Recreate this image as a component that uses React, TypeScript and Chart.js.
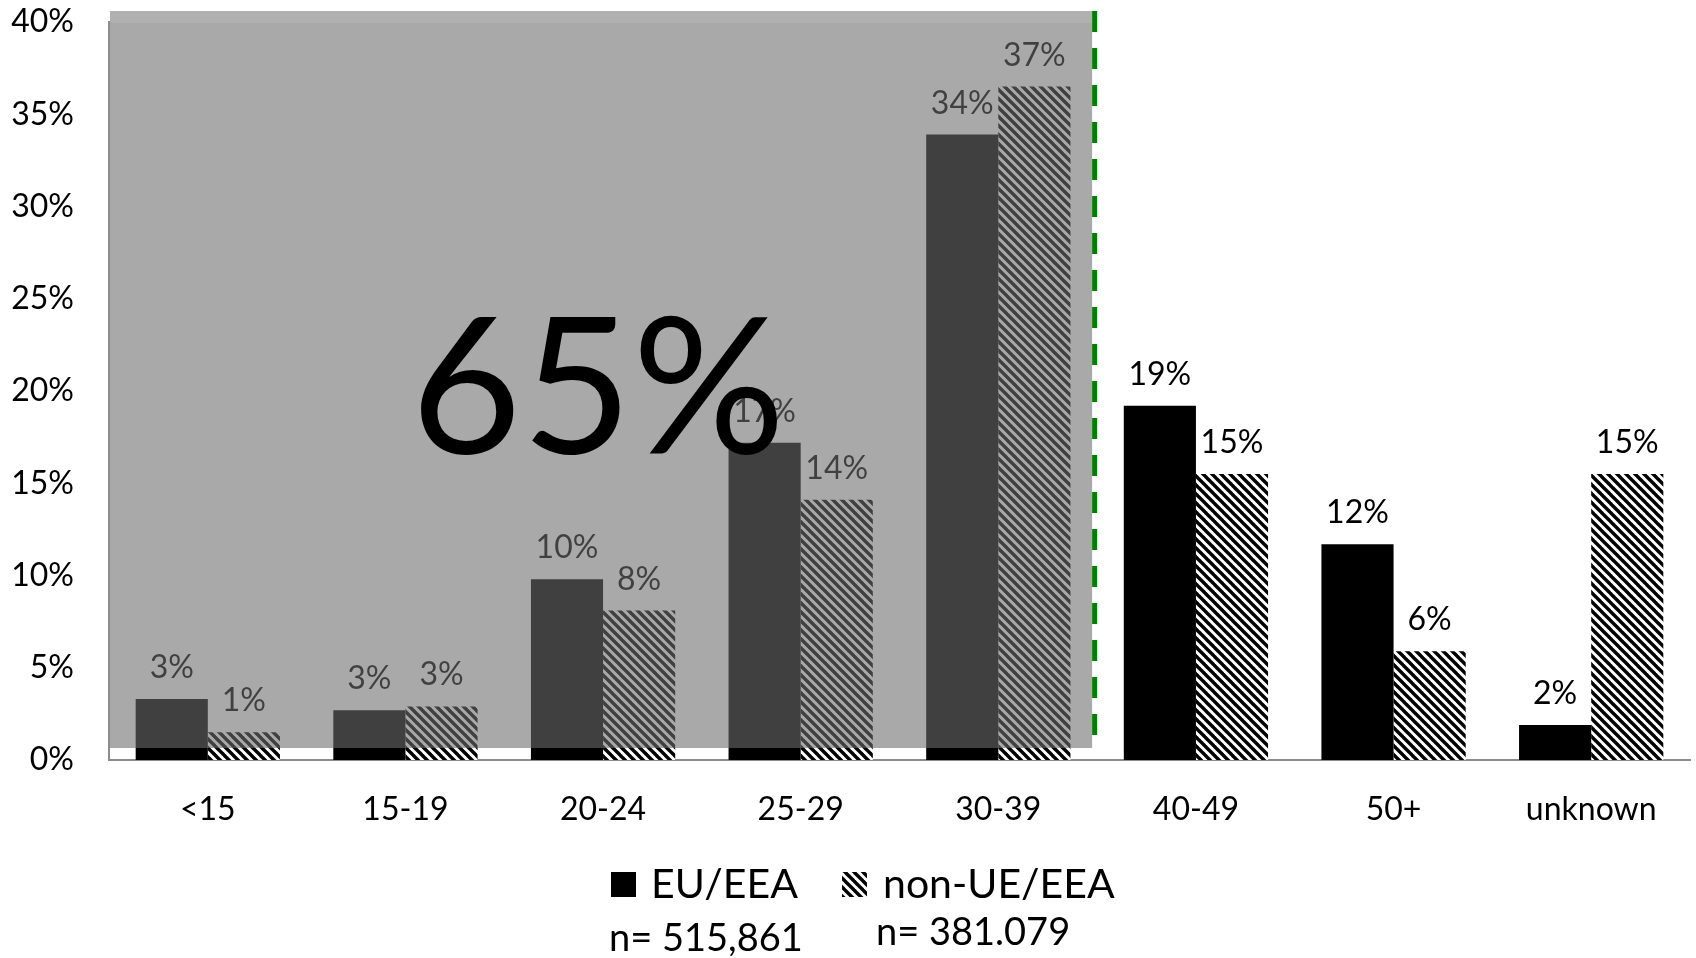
import React, { useEffect, useRef } from "react";
import { Chart, registerables } from "chart.js";

Chart.register(...registerables);

const categories = ["<15", "15-19", "20-24", "25-29", "30-39", "40-49", "50+", "unknown"];
const euValues = [3.3, 2.7, 9.8, 17.2, 33.9, 19.2, 11.7, 1.9];
const nonEuValues = [1.5, 2.9, 8.1, 14.1, 36.5, 15.5, 5.9, 15.5];
const euLabels = ["3%", "3%", "10%", "17%", "34%", "19%", "12%", "2%"];
const nonEuLabels = ["1%", "3%", "8%", "14%", "37%", "15%", "6%", "15%"];
const yTicks = [0, 5, 10, 15, 20, 25, 30, 35, 40];
const legendNames = ["EU/EEA", "non-UE/EEA"];
const legendCounts = ["n= 515,861", "n= 381.079"];
const bigLabel = "65%";
const FONT = "Lato, 'Open Sans', sans-serif";

function makeHatch(): CanvasPattern | string {
  const s = 9;
  const c = document.createElement("canvas");
  c.width = s;
  c.height = s;
  const g = c.getContext("2d");
  if (!g) return "#000";
  g.fillStyle = "#fff";
  g.fillRect(0, 0, s, s);
  g.strokeStyle = "#000";
  g.lineWidth = 3.4;
  for (const off of [-s, 0, s]) {
    g.beginPath();
    g.moveTo(off - 1, -1);
    g.lineTo(off + s + 1, s + 1);
    g.stroke();
  }
  const p = g.createPattern(c, "repeat");
  return p || "#000";
}

function zeroPad(scale: any) {
  scale.paddingTop = 0;
  scale.paddingBottom = 0;
  scale.paddingLeft = 0;
  scale.paddingRight = 0;
}

export default function App() {
  const ref = useRef<HTMLCanvasElement | null>(null);

  useEffect(() => {
    const canvas = ref.current;
    if (!canvas) return;
    const hatch = makeHatch();

    const overlayPlugin = {
      id: "overlayPlugin",
      afterDatasetsDraw(chart: any) {
        const ctx = chart.ctx;
        const area = chart.chartArea;
        const xScale = chart.scales.x;
        // value labels
        ctx.save();
        ctx.font = `32px ${FONT}`;
        ctx.fillStyle = "#000";
        ctx.textAlign = "center";
        ctx.textBaseline = "alphabetic";
        const labelSets = [euLabels, nonEuLabels];
        chart.data.datasets.forEach((_ds: any, di: number) => {
          const meta = chart.getDatasetMeta(di);
          meta.data.forEach((el: any, i: number) => {
            ctx.fillText(labelSets[di][i], el.x, el.y - 21);
          });
        });
        ctx.restore();

        // grey overlay over the first five groups
        const boundary = (xScale.getPixelForValue(4) + xScale.getPixelForValue(5)) / 2 - 5;
        const top = area.top - 11;
        const bottom = area.bottom - 12;
        ctx.save();
        ctx.fillStyle = "rgba(108,108,108,0.59)";
        ctx.fillRect(area.left + 1, top, boundary - area.left - 1, bottom - top);
        ctx.fillStyle = "rgba(255,255,255,0.08)";
        ctx.fillRect(area.left + 1, top, boundary - area.left - 1, 12);
        ctx.restore();

        // green dashed separator
        ctx.save();
        ctx.strokeStyle = "#008000";
        ctx.lineWidth = 5;
        ctx.setLineDash([21, 16]);
        ctx.beginPath();
        ctx.moveTo(boundary + 2.5, top);
        ctx.lineTo(boundary + 2.5, bottom);
        ctx.stroke();
        ctx.restore();

        // big 65% text
        ctx.save();
        ctx.font = `191px ${FONT}`;
        ctx.fillStyle = "#000";
        ctx.textAlign = "center";
        ctx.textBaseline = "alphabetic";
        const cx = xScale.getPixelForValue(2) - 5;
        ctx.fillText(bigLabel, cx, 453);
        ctx.restore();
      },
      afterDraw(chart: any) {
        const ctx = chart.ctx;
        ctx.save();
        // legend markers
        ctx.fillStyle = "#000";
        ctx.fillRect(611, 872, 25, 25);
        ctx.fillStyle = hatch;
        ctx.fillRect(842, 872, 25, 25);
        ctx.fillStyle = "#000";
        ctx.font = `41px ${FONT}`;
        ctx.textAlign = "left";
        ctx.textBaseline = "middle";
        ctx.fillText(legendNames[0], 651, 885);
        ctx.fillText(legendNames[1], 883, 885);
        ctx.font = `38px ${FONT}`;
        ctx.fillText(legendCounts[0], 609, 939);
        ctx.fillText(legendCounts[1], 876, 933);
        ctx.restore();
      },
    };

    const chart = new Chart(canvas, {
      type: "bar",
      data: {
        labels: categories,
        datasets: [
          {
            label: legendNames[0],
            data: euValues,
            backgroundColor: "#000",
            borderWidth: 0,
            categoryPercentage: 0.73,
            barPercentage: 1.0,
          },
          {
            label: legendNames[1],
            data: nonEuValues,
            backgroundColor: hatch as any,
            borderWidth: 0,
            categoryPercentage: 0.73,
            barPercentage: 1.0,
          },
        ],
      },
      options: {
        responsive: false,
        animation: false,
        devicePixelRatio: 1,
        layout: { padding: { top: 22, right: 6, left: 0, bottom: 0 }, autoPadding: false },
        plugins: {
          legend: { display: false },
          tooltip: { enabled: false },
        },
        scales: {
          x: {
            grid: { display: false, drawTicks: false },
            border: { display: true, color: "#8c8c8c", width: 2 },
            ticks: {
              color: "#000",
              font: { family: FONT, size: 32 },
              padding: 30,
              maxRotation: 0,
              autoSkip: false,
            },
            afterFit: (scale: any) => {
              scale.height = 198;
              zeroPad(scale);
            },
          },
          y: {
            min: 0,
            max: 40,
            afterBuildTicks: (scale: any) => {
              scale.ticks = yTicks.map((v) => ({ value: v }));
            },
            grid: { display: false, drawTicks: false },
            border: { display: true, color: "#8c8c8c", width: 2 },
            ticks: {
              color: "#000",
              font: { family: FONT, size: 32 },
              padding: 35,
              callback: (v: any) => `${v}%`,
            },
            afterFit: (scale: any) => {
              scale.width = 109;
              zeroPad(scale);
            },
          },
        },
      },
      plugins: [overlayPlugin],
    });

    return () => chart.destroy();
  }, []);

  return (
    <div style={{ position: "absolute", left: 0, top: 0, width: 1696, height: 958, background: "#fff" }}>
      <canvas ref={ref} width={1696} height={958} style={{ display: "block" }} />
    </div>
  );
}
